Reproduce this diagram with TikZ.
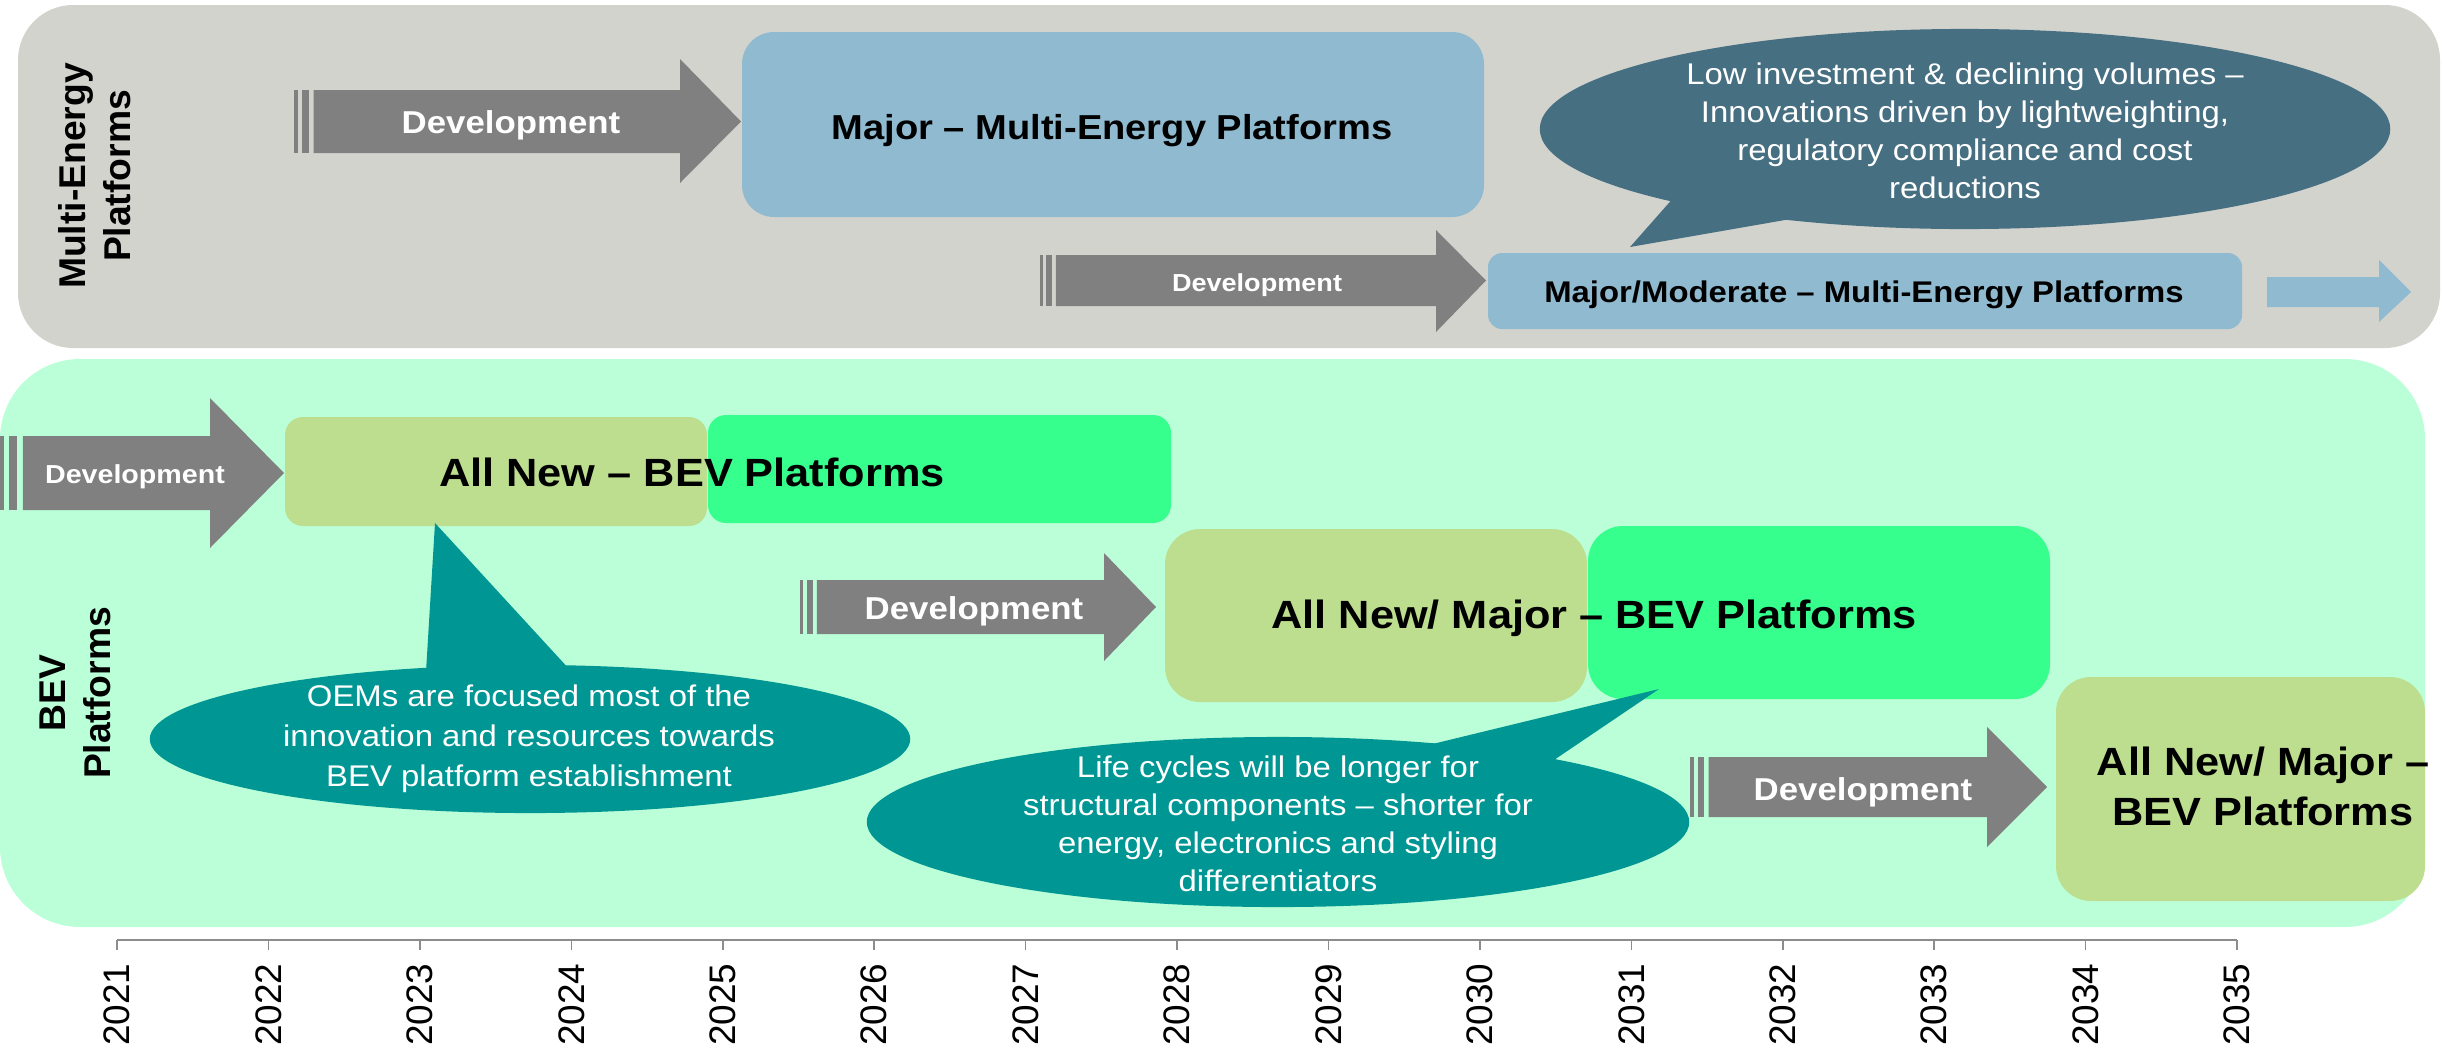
\documentclass[tikz,border=0pt]{standalone}
\usepackage{fontspec}
\setmainfont{Liberation Sans}[FakeStretch=1.1]
\newfontfamily\plainsans{Liberation Sans}
\usetikzlibrary{fit,shapes.geometric}
\definecolor{greypanel}{HTML}{D3D3CE}
\definecolor{mintpanel}{HTML}{BAFFD8}
\definecolor{lightblue}{HTML}{8FBAD0}
\definecolor{darkcall}{HTML}{466F82}
\definecolor{tealcall}{HTML}{009694}
\definecolor{olivebox}{HTML}{BEDE8F}
\definecolor{greenbox}{HTML}{36FF8D}
\definecolor{arrowgrey}{HTML}{808080}
\definecolor{axisgrey}{HTML}{8C8C8C}
\newcommand\devarrow[7]{%
  \pgfmathsetmacro\daH{#5-#4}%
  \pgfmathsetmacro\daA{#1+0.06*\daH}%
  \pgfmathsetmacro\daB{#1+0.125*\daH}%
  \pgfmathsetmacro\daC{#1+0.235*\daH}%
  \pgfmathsetmacro\daD{#1+0.31*\daH}%
  \pgfmathsetmacro\daM{(#4+#5)/2}%
  \fill[arrowgrey] (#1,#4) rectangle (\daA,#5);
  \fill[arrowgrey] (\daB,#4) rectangle (\daC,#5);
  \fill[arrowgrey] (\daD,#4) -- (#2,#4) -- (#2,#6) -- (#3,\daM) -- (#2,#7) -- (#2,#5) -- (\daD,#5) -- cycle;
}
\tikzset{
  boxnode/.style={inner sep=0pt, outer sep=0pt, draw=none},
  devtext/.style={text=white, font=\bfseries\fontsize{#1}{#1}\selectfont, inner sep=0pt},
  boxtext/.style={text=black, font=\bfseries\fontsize{#1}{#1}\selectfont, inner sep=0pt, align=center},
  calltext/.style={text=white, align=center, inner sep=0pt},
  sidelabel/.style={rotate=90, align=center, inner sep=0pt, font=\plainsans\bfseries\fontsize{10.6}{12.8}\selectfont},
  yearlabel/.style={rotate=90, anchor=east, inner sep=0pt, font=\plainsans\fontsize{10.5}{10.5}\selectfont},
}
\begin{document}
\begin{tikzpicture}[x=0.01cm, y=-0.01cm]
\useasboundingbox (0,0) rectangle (2443,1051);
% panels
\node[boxnode, fit={(18,5) (2440,348)}, fill=greypanel, rounded corners=5.5mm] (megpanel) {};
\node[boxnode, fit={(0,359) (2425,927)}, fill=mintpanel, rounded corners=8mm] (bevpanel) {};
% boxes
\node[boxnode, fit={(742,32) (1484,217)}, fill=lightblue, rounded corners=3.2mm] (bmajor) {};
\node[boxnode, fit={(1488,253) (2242,329)}, fill=lightblue, rounded corners=1.4mm] (bmoderate) {};
\node[boxnode, fit={(285,417) (707,526)}, fill=olivebox, rounded corners=1.8mm] (olive1) {};
\node[boxnode, fit={(708,415) (1171,523)}, fill=greenbox, rounded corners=1.8mm] (green1) {};
\node[boxnode, fit={(1165,529) (1587,702)}, fill=olivebox, rounded corners=3.5mm] (olive2) {};
\node[boxnode, fit={(1588,526) (2050,699)}, fill=greenbox, rounded corners=3.5mm] (green2) {};
\node[boxnode, fit={(2056,677) (2425,901)}, fill=olivebox, rounded corners=3.5mm] (olive3) {};
% development arrows
\devarrow{294}{680}{741}{90}{153}{59}{183}
\devarrow{1040}{1436}{1486}{255}{306}{230}{332}
\devarrow{0}{210}{284}{436}{510}{398}{548}
\devarrow{800}{1104}{1156}{580}{634}{553}{661}
\devarrow{1690}{1987}{2047}{757}{817}{727}{847}
% small light blue arrow
\fill[lightblue] (2267,277) -- (2379,277) -- (2379,260) -- (2411,292) -- (2379,322) -- (2379,307) -- (2267,307) -- cycle;
% callouts
\coordinate (tip0) at (1630,247);
\coordinate (tip1) at (435,523);
\coordinate (tip2) at (1659,689);
\node[ellipse, boxnode, fill=darkcall, minimum width=8.5cm, minimum height=2.0cm] (call0) at (1965,129) {};
\fill[darkcall] (1675,196) -- (tip0) -- (1808,216) -- cycle;
\node[ellipse, boxnode, fill=tealcall, minimum width=7.6cm, minimum height=1.48cm] (call1) at (530,739) {};
\fill[tealcall] (426,672) -- (tip1) -- (570,670) -- cycle;
\node[ellipse, boxnode, fill=tealcall, minimum width=8.22cm, minimum height=1.7cm] (call2) at (1278,822) {};
\fill[tealcall] (1416,748) -- (tip2) -- (1548,764) -- cycle;
% arrow texts
\node[devtext=9] (d1) at (511,125) {Development};
\node[devtext=7] (d2) at (1257,285) {Development};
\node[devtext=7.4] (d3) at (135,477) {Development};
\node[devtext=9] (d4) at (974,611) {Development};
\node[devtext=9] (d5) at (1863,792) {Development};
% box texts
\node[boxtext=9.85] (tmajor) at (1112,131) {Major – Multi-Energy Platforms};
\node[boxtext=8.5] (tmoderate) at (1864,295) {Major/Moderate – Multi-Energy Platforms};
\node[boxtext=11.2] (tbev1) at (692,472) {All New – BEV Platforms};
\node[boxtext=11.2] (tbev2) at (1594,618) {All New/ Major – BEV Platforms};
\node[boxtext=11.2, font=\bfseries\fontsize{11.2}{14.2}\selectfont] (tbev3) at (2263,786) {All New/ Major –\\BEV Platforms};
% callout texts
\node[calltext, font=\fontsize{8.5}{10.8}\selectfont] (tc0) at (1965,131) {Low investment \& declining volumes –\\Innovations driven by lightweighting,\\regulatory compliance and cost\\reductions};
\node[calltext, font=\fontsize{8.5}{11.4}\selectfont] (tc1) at (529,739) {OEMs are focused most of the\\innovation and resources towards\\BEV platform establishment};
\node[calltext, font=\fontsize{8.5}{10.8}\selectfont] (tc2) at (1278,824) {Life cycles will be longer for\\structural components – shorter for\\energy, electronics and styling\\differentiators};
% side labels
\node[sidelabel] (lmeg) at (95,176) {Multi-Energy\\Platforms};
\node[sidelabel] (lbev) at (75,693) {BEV\\Platforms};
% axis
\coordinate (axstart) at (117,940);
\coordinate (axend) at (2237,940);
\draw[axisgrey, line width=0.6pt] (axstart) -- (axend);
\foreach \yr [count=\i from 0] in {2021,...,2035}{
  \coordinate (tk\i) at ({117+151.43*\i},940);
  \draw[axisgrey, line width=0.45pt] (tk\i) -- ++(0,10);
  \node[yearlabel] (yl\i) at ({117+151.43*\i},963) {\yr};
}
\end{tikzpicture}
\end{document}
